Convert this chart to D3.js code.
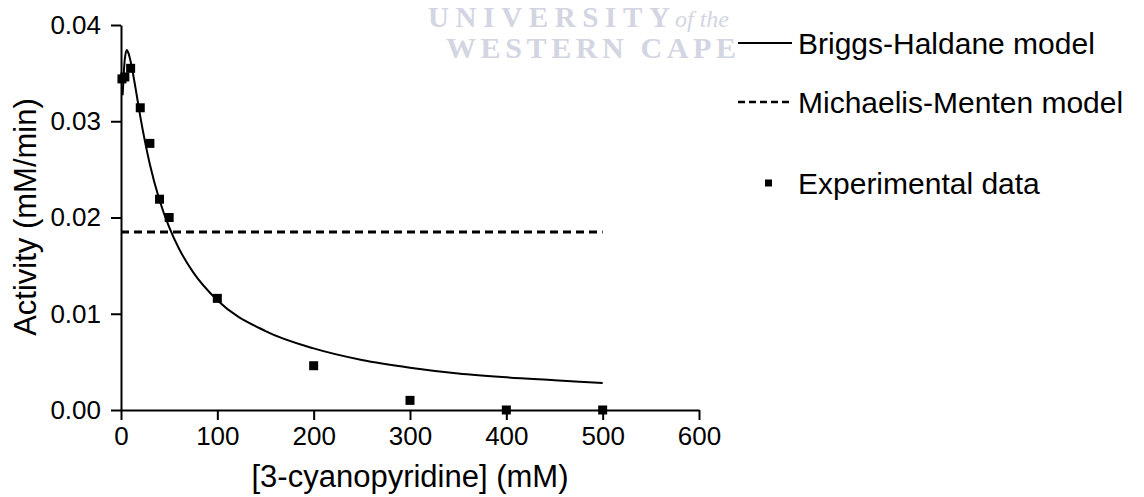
<!DOCTYPE html>
<html lang="en">
<head>
    <meta charset="UTF-8">
    <title>Activity vs 3-cyanopyridine</title>
    <script src="https://d3js.org/d3.v7.min.js"></script>
    <style>
        body { margin: 0; background: #fff; }
        svg text { font-family: "Liberation Sans", Arial, sans-serif; fill: #000; }
        svg text.wm { font-family: "Liberation Serif", "Times New Roman", serif; font-weight: bold; fill: #d3d5e2; }
        .axis path, .axis line { stroke: #000; stroke-width: 2; fill: none; }
        .axis text { font-size: 26px; }
    </style>
</head>
<body>
<div id="chart"></div>
<script>
    // experimental points
    var expX = [1, 4, 10, 20, 30, 40, 50, 100, 200, 300, 400, 500];
    var expY = [0.0344, 0.0346, 0.0355, 0.0314, 0.0277, 0.0219, 0.0200, 0.0116, 0.0046, 0.0010, 0.0000, 0.0000];

    // Briggs-Haldane fitted curve
    var bhX = [1.7, 3, 4, 6, 8, 10, 15, 20, 30, 40, 50, 60, 75, 100, 150, 200, 250, 300, 350, 400, 450, 500];
    var bhY = [0.0327, 0.0352, 0.0365, 0.0374, 0.0370, 0.0362, 0.0335, 0.0305, 0.0255, 0.0218, 0.0190, 0.0168, 0.0143, 0.0114, 0.0082, 0.0064, 0.0052, 0.0044, 0.0038, 0.0034, 0.0031, 0.0028];

    // Michaelis-Menten fit (flat)
    var mmX = [0, 500];
    var mmY = [0.0185, 0.0185];

    var xTicks = [0, 100, 200, 300, 400, 500, 600];
    var yTicks = [0.00, 0.01, 0.02, 0.03, 0.04];

    var legendLabels = ["Briggs-Haldane model", "Michaelis-Menten model", "Experimental data"];

    var W = 1144, H = 497;
    var x = d3.scaleLinear().domain([0, 600]).range([121, 699]);
    var y = d3.scaleLinear().domain([0, 0.04]).range([410, 25]);

    var svg = d3.select("#chart").append("svg")
        .attr("width", W)
        .attr("height", H);

    // watermark
    svg.append("text").attr("class", "wm")
        .attr("x", 428).attr("y", 27)
        .attr("textLength", 242).attr("lengthAdjust", "spacing")
        .style("font-size", "29px")
        .text("UNIVERSITY");
    svg.append("text").attr("class", "wm")
        .attr("x", 675).attr("y", 27)
        .style("font-size", "24px")
        .style("font-style", "italic")
        .style("font-weight", "normal")
        .text("of the");
    svg.append("text").attr("class", "wm")
        .attr("x", 446).attr("y", 58)
        .attr("textLength", 290).attr("lengthAdjust", "spacing")
        .style("font-size", "30px")
        .text("WESTERN CAPE");

    svg.append("g")
        .attr("class", "axis")
        .attr("transform", "translate(0,410)")
        .call(d3.axisBottom(x).tickValues(xTicks).tickSize(10).tickSizeOuter(0).tickPadding(7));

    svg.append("g")
        .attr("class", "axis")
        .attr("transform", "translate(121,0)")
        .call(d3.axisLeft(y).tickValues(yTicks).tickFormat(d3.format(".2f")).tickSize(10).tickSizeOuter(0).tickPadding(10));

    svg.append("text")
        .attr("x", (121 + 699) / 2)
        .attr("y", 487)
        .attr("text-anchor", "middle")
        .style("font-size", "31px")
        .text("[3-cyanopyridine] (mM)");

    svg.append("text")
        .attr("transform", "translate(36,217) rotate(-90)")
        .attr("text-anchor", "middle")
        .style("font-size", "31px")
        .text("Activity (mM/min)");

    var line = d3.line()
        .x(function (d) { return x(d[0]); })
        .y(function (d) { return y(d[1]); });

    svg.append("path")
        .attr("d", line.curve(d3.curveMonotoneX)(d3.zip(bhX, bhY)))
        .attr("fill", "none")
        .attr("stroke", "#000")
        .attr("stroke-width", 2);

    svg.append("path")
        .attr("d", line.curve(d3.curveLinear)(d3.zip(mmX, mmY)))
        .attr("fill", "none")
        .attr("stroke", "#000")
        .attr("stroke-width", 3)
        .attr("stroke-dasharray", "8,5");

    var sq = 9;
    svg.append("g").selectAll("rect")
        .data(d3.zip(expX, expY))
        .enter().append("rect")
        .attr("x", function (d) { return x(d[0]) - sq / 2; })
        .attr("y", function (d) { return y(d[1]) - sq / 2; })
        .attr("width", sq)
        .attr("height", sq)
        .attr("fill", "#000");

    // legend
    var lg = svg.append("g");
    var rowY = [43, 102, 183];
    lg.append("line").attr("x1", 738).attr("x2", 792).attr("y1", rowY[0]).attr("y2", rowY[0])
        .attr("stroke", "#000").attr("stroke-width", 2);
    lg.append("line").attr("x1", 738).attr("x2", 792).attr("y1", rowY[1]).attr("y2", rowY[1])
        .attr("stroke", "#000").attr("stroke-width", 2.5).attr("stroke-dasharray", "7,4");
    lg.append("rect").attr("x", 765).attr("y", rowY[2] - 3.5).attr("width", 7).attr("height", 7).attr("fill", "#000");
    lg.selectAll("text.lab")
        .data(legendLabels)
        .enter().append("text")
        .attr("class", "lab")
        .attr("x", 798)
        .attr("y", function (d, i) { return rowY[i] + 11; })
        .style("font-size", "30px")
        .text(function (d) { return d; });
</script>
</body>
</html>
